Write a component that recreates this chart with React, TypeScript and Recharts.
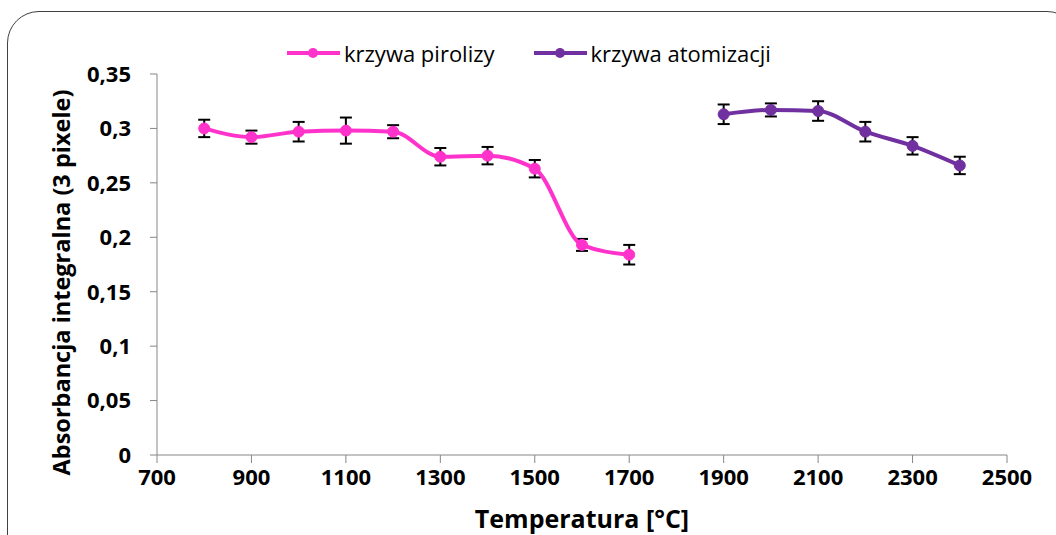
import React from 'react';
import { LineChart, Line, XAxis, YAxis, ErrorBar } from 'recharts';

const seriesNames = ['krzywa pirolizy', 'krzywa atomizacji'];
const seriesColors = ['#FF33CC', '#7030A0'];

const pyroTemps = [800, 900, 1000, 1100, 1200, 1300, 1400, 1500, 1600, 1700];
const pyroValues = [0.300, 0.292, 0.297, 0.298, 0.297, 0.274, 0.275, 0.263, 0.193, 0.184];
const pyroErrors = [0.008, 0.006, 0.009, 0.012, 0.006, 0.008, 0.008, 0.008, 0.0055, 0.009];

const atomTemps = [1900, 2000, 2100, 2200, 2300, 2400];
const atomValues = [0.313, 0.317, 0.316, 0.297, 0.284, 0.266];
const atomErrors = [0.009, 0.006, 0.009, 0.009, 0.008, 0.008];

const xTicks = [700, 900, 1100, 1300, 1500, 1700, 1900, 2100, 2300, 2500];
const yTicks = [0, 0.05, 0.1, 0.15, 0.2, 0.25, 0.3, 0.35];

const xTitle = 'Temperatura [°C]';
const yTitle = 'Absorbancja integralna (3 pixele)';

const pyroData = pyroTemps.map((t, i) => ({ x: t, y: pyroValues[i], err: pyroErrors[i] }));
const atomData = atomTemps.map((t, i) => ({ x: t, y: atomValues[i], err: atomErrors[i] }));

const FONT = '"Open Sans", sans-serif';
const AXIS = '#868686';

const fmt = (v: number) => String(v).replace('.', ',');

export default function App() {
  return (
    <div style={{ position: 'absolute', left: 0, top: 0, width: 1056, height: 535, overflow: 'hidden', background: '#fff', fontFamily: FONT }}>
      <div style={{ position: 'absolute', left: 7, top: 11, width: 1070, height: 560, border: '1.5px solid #404040', borderRadius: 32 }} />
      <div style={{ position: 'absolute', left: 0, top: 0 }}>
        <LineChart width={1056} height={535} margin={{ top: 74, right: 49, bottom: 0, left: 0 }}>
          <XAxis
            type="number"
            dataKey="x"
            domain={[700, 2500]}
            ticks={xTicks}
            allowDataOverflow
            height={80}
            stroke={AXIS}
            tickSize={8}
            tickMargin={6}
            tick={{ fill: '#000', fontSize: 22, fontWeight: 700, fontFamily: FONT }}
            label={(props: any) => {
              const vb = props.viewBox;
              return (
                <text x={vb.x + vb.width / 2} y={518} textAnchor="middle" dominantBaseline="central" fontSize={25} fontWeight={700} fontFamily={FONT} fill="#000">
                  {xTitle}
                </text>
              );
            }}
          />
          <YAxis
            type="number"
            dataKey="y"
            domain={[0, 0.35]}
            ticks={yTicks}
            width={157}
            stroke={AXIS}
            tickSize={7}
            tickMargin={19}
            tickFormatter={fmt}
            tick={{ fill: '#000', fontSize: 22, fontWeight: 700, fontFamily: FONT }}
            label={(props: any) => {
              const vb = props.viewBox;
              const cy = vb.y + vb.height / 2 + 18;
              return (
                <text x={61} y={cy} textAnchor="middle" dominantBaseline="central" transform={`rotate(-90, 61, ${cy})`} fontSize={23.5} fontWeight={700} fontFamily={FONT} fill="#000">
                  {yTitle}
                </text>
              );
            }}
          />
          <Line
            data={pyroData}
            dataKey="y"
            name={seriesNames[0]}
            type="monotone"
            stroke={seriesColors[0]}
            strokeWidth={4}
            dot={{ r: 5.5, fill: seriesColors[0], stroke: seriesColors[0], strokeWidth: 1 }}
            isAnimationActive={false}
          >
            <ErrorBar dataKey="err" direction="y" width={6} stroke="#000" strokeWidth={2} />
          </Line>
          <Line
            data={atomData}
            dataKey="y"
            name={seriesNames[1]}
            type="monotone"
            stroke={seriesColors[1]}
            strokeWidth={4}
            dot={{ r: 5.5, fill: seriesColors[1], stroke: seriesColors[1], strokeWidth: 1 }}
            isAnimationActive={false}
          >
            <ErrorBar dataKey="err" direction="y" width={6} stroke="#000" strokeWidth={2} />
          </Line>
        </LineChart>
      </div>
      <div style={{ position: 'absolute', left: 287, top: 38, display: 'flex', alignItems: 'center', fontSize: 22, color: '#000', whiteSpace: 'nowrap' }}>
        {seriesNames.map((n, i) => (
          <div key={n} style={{ display: 'flex', alignItems: 'center', marginRight: i === 0 ? 39 : 0 }}>
            <svg width={54} height={28}>
              <line x1={0} y1={14} x2={53} y2={14} stroke={seriesColors[i]} strokeWidth={4} />
              <circle cx={26} cy={14} r={5} fill={seriesColors[i]} />
            </svg>
            <span style={{ marginLeft: 3 }}>{n}</span>
          </div>
        ))}
      </div>
    </div>
  );
}
